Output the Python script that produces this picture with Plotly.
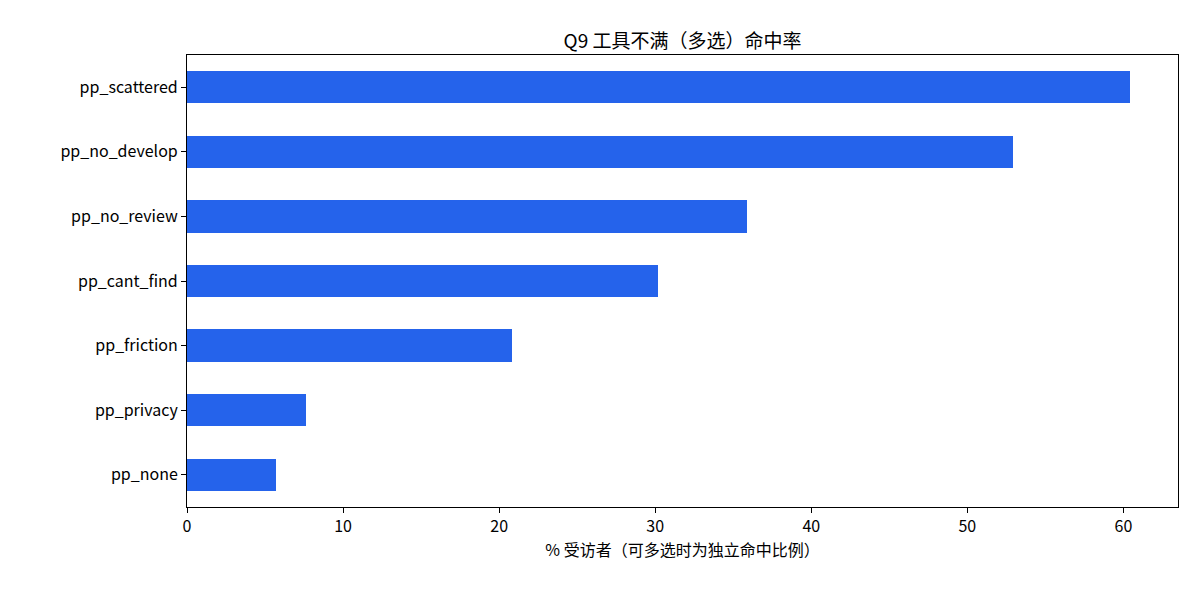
import plotly.graph_objects as go

categories = ["pp_scattered", "pp_no_develop", "pp_no_review", "pp_cant_find",
              "pp_friction", "pp_privacy", "pp_none"]
values = [60.4, 52.9, 35.9, 30.2, 20.8, 7.6, 5.7]
x_ticks = [0, 10, 20, 30, 40, 50, 60]

font = "Noto Sans CJK SC"

fig = go.Figure(go.Bar(
    x=values[::-1], y=categories[::-1], orientation="h",
    width=0.5, marker=dict(color="#2563eb", line=dict(width=0)),
))

# page body adds ~8px offset, so margins are shifted to compensate
fig.update_layout(
    width=1200, height=600, showlegend=False,
    plot_bgcolor="white", paper_bgcolor="white",
    font=dict(family=font, size=16, color="black"),
    title=dict(text="Q9 工具不满（多选）命中率", x=0.5, xanchor="center",
               xref="paper", y=0.955, font=dict(size=19)),
    margin=dict(l=179, r=30, t=47, b=101),
    bargap=0,
)
fig.update_xaxes(range=[0, 63.5], tickvals=x_ticks, showgrid=False, zeroline=False,
                 showline=True, mirror=True, linecolor="black", linewidth=1,
                 ticks="outside", ticklen=5, tickcolor="black",
                 title=dict(text="% 受访者（可多选时为独立命中比例）", font=dict(size=16),
                            standoff=6))
fig.update_yaxes(range=[-0.5, 6.5], showgrid=False, zeroline=False,
                 showline=True, mirror=True, linecolor="black", linewidth=1,
                 ticks="outside", ticklen=5, tickcolor="black")

fig.write_html("out.html")
